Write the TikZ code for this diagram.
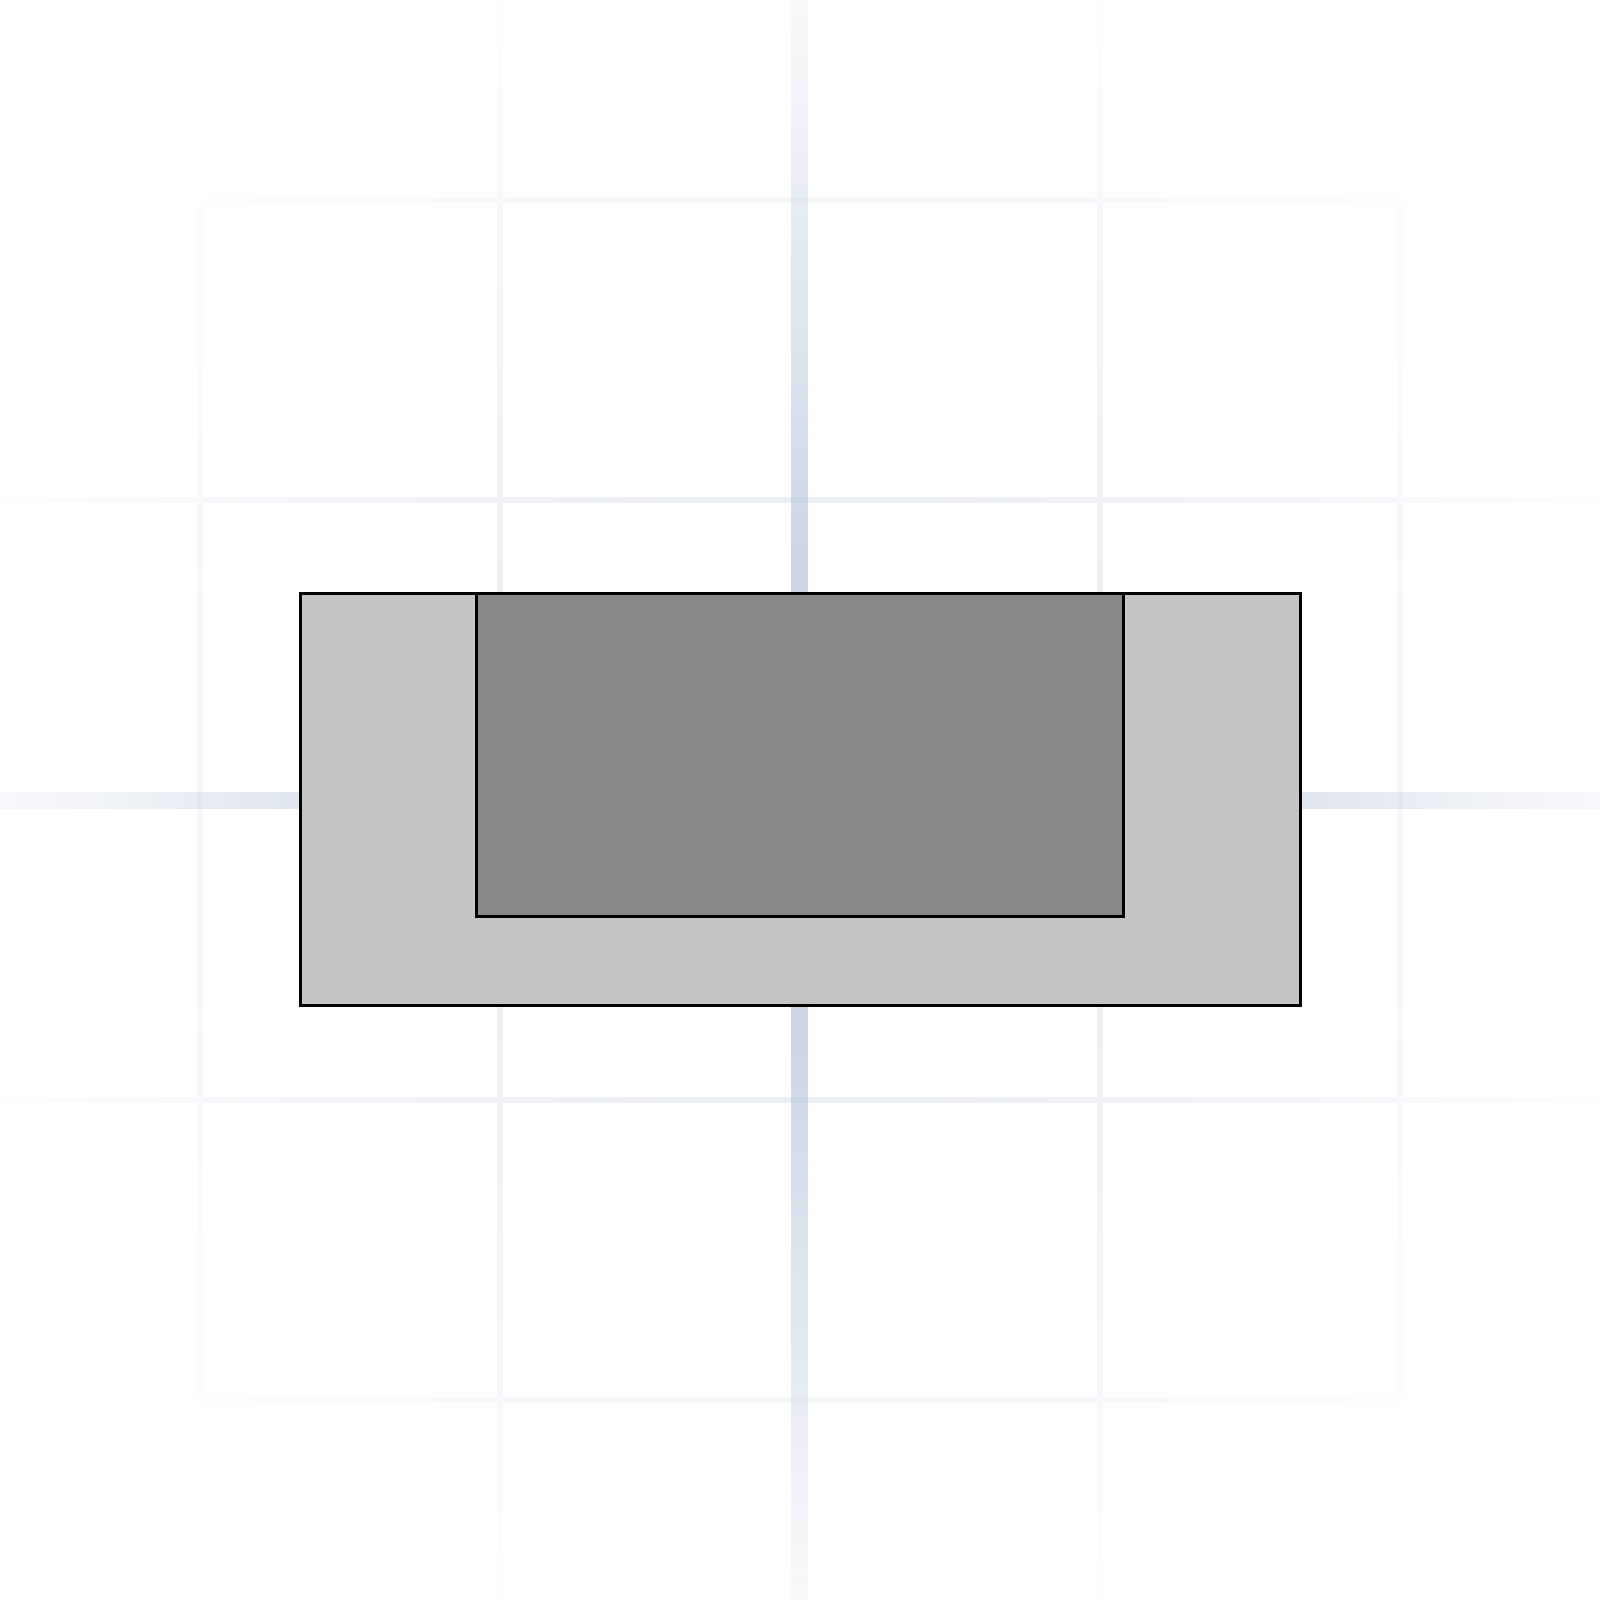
\documentclass[tikz,border=0pt]{standalone}
\usepackage{tikz}
\usetikzlibrary{positioning,fadings}

\definecolor{gridmain}{HTML}{BBC8DC}
\definecolor{gridminor}{HTML}{E2E6F0}
\definecolor{shellgray}{HTML}{C4C4C4}
\definecolor{coregray}{HTML}{888888}

\tikzfading[name=gridfade, inner color=transparent!0, outer color=transparent!100]

\tikzset{
  gridline/.style={line width=0.06cm, gridminor, path fading=gridfade, fit fading=false,
                   fading transform={shift={(8,8)}, scale=10}},
  axisline/.style={gridline, line width=0.17cm, gridmain},
  part/.style={draw=black, line width=0.03cm, rectangle, inner sep=0pt, outer sep=0pt},
}

\begin{document}
\begin{tikzpicture}
    \useasboundingbox[fill=white] (0,0) rectangle (16,16);

    % background grid
    \draw[gridline] (2,0) -- (2,16) (5,0) -- (5,16) (11,0) -- (11,16) (14,0) -- (14,16)
                    (0,2) -- (16,2) (0,5) -- (16,5) (0,11) -- (16,11) (0,14) -- (16,14);
    \draw[axisline] (8,0) -- (8,16) (0,8) -- (16,8);

    \node (shell) [part, fill=shellgray, minimum width=10cm, minimum height=4.12cm] at (8,8) {};
    \node (core) [part, fill=coregray, minimum width=6.47cm, minimum height=3.23cm,
                  below=0pt of shell.north] {};
  \end{tikzpicture}
\end{document}
